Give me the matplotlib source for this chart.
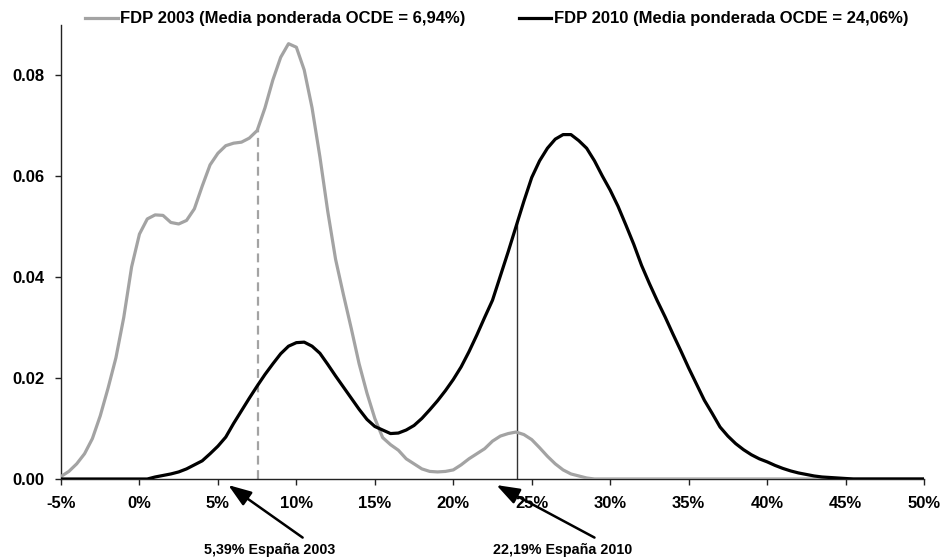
import numpy as np
import matplotlib
matplotlib.use("Agg")
import matplotlib.pyplot as plt

plt.rcParams['font.family'] = ['Liberation Sans', 'DejaVu Sans']
plt.rcParams['font.weight'] = 'bold'

# tipo (%) en una malla de 0,5 puntos, de -5% a 50%
x_pct = np.arange(-5.0, 50.01, 0.5)

fdp_2003_head = [
    0.0005, 0.0015, 0.003, 0.005, 0.008, 0.0125, 0.018, 0.024, 0.032, 0.042,
    0.0485, 0.0515, 0.0523, 0.0522, 0.0508, 0.0505, 0.0512, 0.0535, 0.058, 0.0622,
    0.0645, 0.066, 0.0665, 0.0667, 0.0675, 0.069, 0.0735, 0.079, 0.0835, 0.0862,
    0.0855, 0.081, 0.0735, 0.0638, 0.053, 0.0435, 0.0365, 0.0298, 0.0228, 0.017,
    0.012, 0.0082, 0.0068, 0.0057, 0.004, 0.003, 0.002, 0.0015, 0.0014, 0.0015,
    0.0018, 0.0028, 0.004, 0.005, 0.006, 0.0075, 0.0085, 0.009, 0.0093, 0.0088,
    0.0078, 0.0062, 0.0045, 0.003, 0.0018, 0.001, 0.0006, 0.0002, 0.0,
]
fdp_2003 = fdp_2003_head + [0.0] * (len(x_pct) - len(fdp_2003_head))

# FDP 2010 (negra)
fdp_2010 = [
    0, 0, 0, 0, 0, 0, 0, 0, 0, 0, 0, 0,
    0.0004, 0.0007, 0.001, 0.0014, 0.002, 0.0028, 0.0036, 0.005, 0.0065, 0.0083,
    0.011, 0.0135, 0.016, 0.0184, 0.0207, 0.0228, 0.0248, 0.0263, 0.027, 0.0271,
    0.0263, 0.0249, 0.0227, 0.0204, 0.0182, 0.016, 0.0138, 0.0118, 0.0104, 0.0097,
    0.009, 0.0091, 0.0097, 0.0106, 0.012, 0.0137, 0.0155, 0.0175, 0.0197, 0.0222,
    0.0252, 0.0285, 0.032, 0.0354, 0.0402, 0.045, 0.050, 0.055, 0.0597, 0.063,
    0.0655, 0.0673, 0.0682, 0.0682, 0.067, 0.0655, 0.063, 0.060, 0.0572, 0.054,
    0.0503, 0.0465, 0.0423, 0.0387, 0.0353, 0.0321, 0.0287, 0.0254, 0.022, 0.0188,
    0.0156, 0.013, 0.0103, 0.0085, 0.007, 0.0058, 0.0048, 0.004, 0.0034, 0.0027,
    0.0021, 0.0016, 0.0012, 0.0009, 0.0006, 0.0004, 0.0003, 0.0002, 0.0001, 0,
    0, 0, 0, 0, 0, 0, 0, 0, 0,
]

label_2003 = 'FDP 2003 (Media ponderada OCDE = 6,94%)'
label_2010 = 'FDP 2010 (Media ponderada OCDE = 24,06%)'

# posicion de las lineas verticales tal como estan dibujadas
media_2003_x = 7.53
media_2010_x = 24.06

# flechas: punta, cola, texto
espana_labels = ['5,39% España 2003', '22,19% España 2010']
espana_tip_x = [5.66, 22.75]
espana_tail_x = [10.4, 29.0]
espana_text_x = [8.3, 27.0]

gray = '#a3a3a3'

fig = plt.figure(figsize=(9.41, 5.59), dpi=100)
ax = fig.add_axes([61 / 941, 80 / 559, 863 / 941, 454.5 / 559])

ax.plot(x_pct, fdp_2003, color=gray, lw=2.3, label=label_2003, zorder=3)
ax.plot(x_pct, fdp_2010, color='black', lw=2.3, label=label_2010, zorder=4)

top_2003 = np.interp(media_2003_x, x_pct, fdp_2003)
top_2010 = np.interp(media_2010_x, x_pct, fdp_2010)
ax.plot([media_2003_x, media_2003_x], [0, top_2003], color=gray, lw=1.6,
        ls=(0, (4, 2.5)), zorder=2)
ax.plot([media_2010_x, media_2010_x], [0, top_2010], color='#333333', lw=1.0, zorder=2)

ax.set_xlim(-5, 50)
ax.set_ylim(0, 0.09)
ax.set_xticks(np.arange(-5, 51, 5))
ax.set_xticklabels([f'{v}%' for v in range(-5, 51, 5)])
ax.set_yticks([0, 0.02, 0.04, 0.06, 0.08])
ax.set_yticklabels(['0.00', '0.02', '0.04', '0.06', '0.08'])

for s in ['top', 'right']:
    ax.spines[s].set_visible(False)
for s in ['left', 'bottom']:
    ax.spines[s].set_color('#222222')
    ax.spines[s].set_linewidth(1.0)
ax.tick_params(axis='both', direction='out', length=4, width=1.0, color='#222222',
               labelsize=12)
ax.tick_params(axis='x', pad=8)
ax.tick_params(axis='y', pad=8)
for t in ax.get_xticklabels() + ax.get_yticklabels():
    t.set_fontweight('bold')

for lab, tip, tail, tx in zip(espana_labels, espana_tip_x, espana_tail_x, espana_text_x):
    ax.annotate('', xy=(tip, -0.0012), xytext=(tail, -0.0116),
                arrowprops=dict(arrowstyle='-|>,head_length=0.7,head_width=0.25',
                                color='black', lw=1.8, mutation_scale=20,
                                shrinkA=0, shrinkB=0),
                annotation_clip=False)
    ax.text(tx, -0.014, lab, ha='center', va='center', fontsize=10.3,
            fontweight='bold', clip_on=False)

fig.legend(loc='center left', bbox_to_anchor=(85 / 941, 1 - 19 / 559), ncol=2,
           frameon=False, handlelength=1.95, handletextpad=0.15,
           columnspacing=3.2, borderaxespad=0, borderpad=0,
           prop={'weight': 'bold', 'size': 12})

fig.savefig('out.png', dpi=100)
